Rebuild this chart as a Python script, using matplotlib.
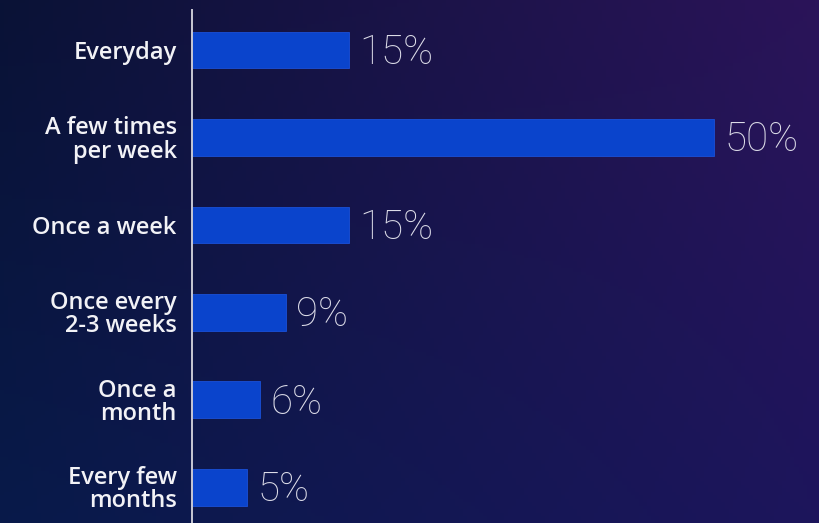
import numpy as np
import matplotlib
matplotlib.use("Agg")
import matplotlib.pyplot as plt
from matplotlib.colors import to_rgb

categories = ["Everyday", "A few times\nper week", "Once a week",
              "Once every\n2-3 weeks", "Once a\nmonth", "Every few\nmonths"]
values = [15, 50, 15, 9, 6.5, 5.3]
value_labels = ["15%", "50%", "15%", "9%", "6%", "5%"]

W, H = 819, 523
fig = plt.figure(figsize=(W / 100, H / 100), dpi=100)

# background gradient
bg = fig.add_axes([0, 0, 1, 1], zorder=-10)
tl, tr = np.array(to_rgb("#0a1236")), np.array(to_rgb("#2b1459"))
bl, br = np.array(to_rgb("#081a4a")), np.array(to_rgb("#1d155c"))
u = np.linspace(0, 1, 200)[None, :, None]
v = np.linspace(0, 1, 150)[:, None, None]
img = (1 - v) * ((1 - u) * tl + u * tr) + v * ((1 - u) * bl + u * br)
bg.imshow(img, aspect="auto", extent=[0, 1, 0, 1], origin="upper")
bg.set_axis_off()

ax = fig.add_axes([192 / W, 0, 1 - 192 / W, 1 - 10 / H])
ax.patch.set_alpha(0)
y = np.arange(len(categories))
ax.barh(y, values, height=0.42, color="#0a44cc", edgecolor="#1a50d8", linewidth=0.6)
ax.set_ylim(len(categories) - 1 + 0.41, -0.458)
ax.set_xlim(0, 60.06)

for yi, v_, lab in zip(y, values, value_labels):
    ax.text(v_ + 1.0, yi + 0.03, lab, va="center", ha="left", fontsize=29,
            family="Roboto", fontweight="light", color="#dcdce8")

ax.set_yticks(y)
ax.set_yticklabels(categories, fontsize=17, family="Open Sans", fontweight="semibold",
                   color="#f2f2f6", linespacing=0.95)
ax.tick_params(axis="y", length=0, pad=11)
ax.set_xticks([])
for s in ["top", "right", "bottom"]:
    ax.spines[s].set_visible(False)
ax.spines["left"].set_color("#c8c8d4")
ax.spines["left"].set_linewidth(1.4)

fig.savefig("out.png", dpi=100)
